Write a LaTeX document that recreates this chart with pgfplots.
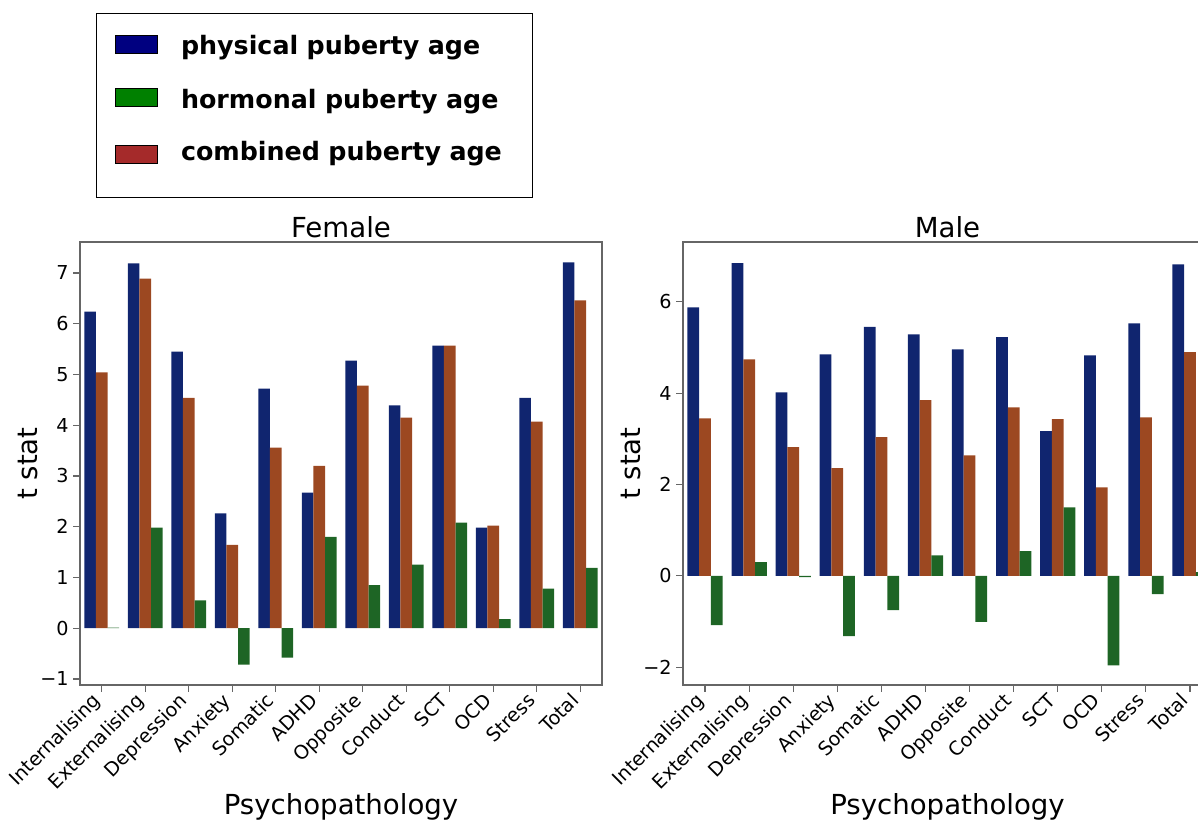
\documentclass[border=0pt]{standalone}
\usepackage{pgfplots}
\usepackage{pgfplotstable}
\pgfplotsset{compat=1.18}
\usepackage{fontspec}
\setmainfont{DejaVu Sans}

\definecolor{cphys}{HTML}{10256F}
\definecolor{ccomb}{HTML}{9C4821}
\definecolor{chorm}{HTML}{1E6525}
\definecolor{lnavy}{HTML}{000080}
\definecolor{lgreen}{HTML}{008000}
\definecolor{lbrown}{HTML}{A52A2A}

\pgfplotstableread{
idx phys comb horm
0 6.24 5.04 0.01
1 7.19 6.89 1.98
2 5.45 4.54 0.55
3 2.26 1.64 -0.72
4 4.72 3.56 -0.58
5 2.67 3.20 1.80
6 5.27 4.78 0.85
7 4.39 4.15 1.25
8 5.57 5.57 2.08
9 1.98 2.02 0.18
10 4.54 4.07 0.78
11 7.21 6.46 1.19
}\female

\pgfplotstableread{
idx phys comb horm
0 5.88 3.45 -1.08
1 6.85 4.74 0.30
2 4.02 2.82 -0.03
3 4.85 2.36 -1.32
4 5.45 3.04 -0.75
5 5.29 3.85 0.45
6 4.96 2.64 -1.01
7 5.23 3.69 0.54
8 3.17 3.43 1.50
9 4.83 1.94 -1.96
10 5.53 3.47 -0.40
11 6.82 4.90 0.08
}\male

\pgfplotsset{
  myaxis/.style={
    scale only axis,
    height=332.25pt,
    xmin=-0.5, xmax=11.5,
    xtick={0,...,11},
    xticklabels={Internalising,Externalising,Depression,Anxiety,Somatic,ADHD,Opposite,Conduct,SCT,OCD,Stress,Total},
    xticklabel style={xshift=-8pt, yshift=3pt, rotate=45, anchor=north east, font=\fontsize{14.4}{17}\selectfont, inner sep=2pt},
    yticklabel style={font=\fontsize{14.4}{17}\selectfont},
    tick align=outside, xtick pos=bottom, ytick pos=left,
    major tick length=5pt,
    axis line style={black!60, line width=0.9pt},
    every tick/.style={black!60, line width=0.9pt},
    xlabel={Psychopathology}, ylabel={t stat},
    label style={font=\fontsize{20.7}{24}\selectfont},
    xlabel style={yshift=6pt},
    ylabel style={yshift=-5pt},
    title style={font=\fontsize{20.7}{24}\selectfont, yshift=-6.75pt},
  },
  physbar/.style={ybar, bar width=0.2667, bar shift=-0.2667, fill=cphys, draw=none, forget plot},
  combbar/.style={ybar, bar width=0.2667, bar shift=0, fill=ccomb, draw=none, forget plot},
  hormbar/.style={ybar, bar width=0.2667, bar shift=0.2667, fill=chorm, draw=none, forget plot},
}

\begin{document}
\begin{tikzpicture}[trim left=0pt, trim right=898.5pt]
\path (0,0) rectangle (898.5pt,614.25pt);

\begin{axis}[myaxis,
  at={(60pt,100.5pt)}, anchor=south west,
  width=391.5pt,
  ymin=-1.12, ymax=7.61,
  ytick={-1,0,1,2,3,4,5,6,7},
  yticklabels={−1,0,1,2,3,4,5,6,7},
  title={Female},
  legend image code/.code={\draw[#1, draw=black, line width=0.6pt] (0pt,-3.75pt) rectangle (32pt,9.75pt);},
  legend style={at={(axis description cs:0.0307,1.5169)}, anchor=north west,
    draw=black, line width=0.8pt,
    inner xsep=13.5pt, inner ysep=15.75pt,
    column sep=17.25pt, row sep=21pt,
    font=\fontsize{19}{22}\selectfont\bfseries,
    nodes={inner xsep=0pt, inner ysep=0pt, text height=14pt, text depth=4pt, text width=249.75pt, align=left}},
  legend cell align=left,
]
\addplot[physbar] table[x=idx, y=phys] {\female};
\addplot[combbar] table[x=idx, y=comb] {\female};
\addplot[hormbar] table[x=idx, y=horm] {\female};
\addlegendimage{fill=lnavy}
\addlegendentry{physical puberty age}
\addlegendimage{fill=lgreen}
\addlegendentry{hormonal puberty age}
\addlegendimage{fill=lbrown}
\addlegendentry[text depth=12.25pt]{combined puberty age}
\end{axis}

\begin{axis}[myaxis,
  at={(512.25pt,100.5pt)}, anchor=south west,
  width=396.75pt,
  ymin=-2.39, ymax=7.31,
  ytick={-2,0,2,4,6},
  yticklabels={−2,0,2,4,6},
  title={Male},
]
\addplot[physbar] table[x=idx, y=phys] {\male};
\addplot[combbar] table[x=idx, y=comb] {\male};
\addplot[hormbar] table[x=idx, y=horm] {\male};
\end{axis}
\end{tikzpicture}
\end{document}
